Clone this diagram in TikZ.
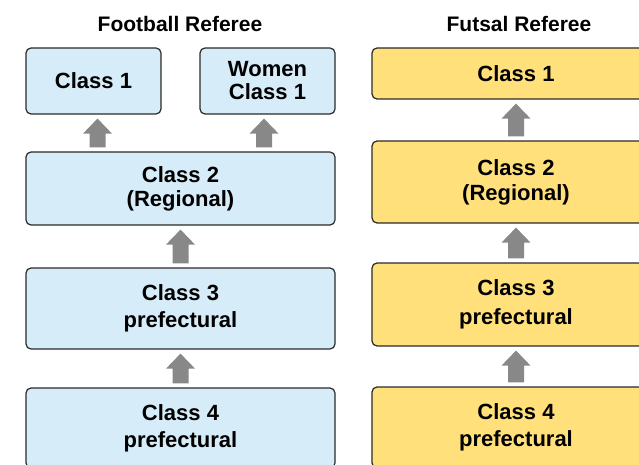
\documentclass[tikz,border=0pt]{standalone}
\usepackage{fontspec}
\setmainfont{Liberation Sans}
\usetikzlibrary{calc}
\definecolor{bluefill}{HTML}{D6ECF8}
\definecolor{yelfill}{HTML}{FFE07A}
\definecolor{edgec}{HTML}{2A2A2A}
\definecolor{arwc}{HTML}{888888}
\newcommand\uparw[2]{\fill[arw] ($#1+(-8,4)$) -- ($#2+(-8,-19)$) -- ($#2+(-14.5,-19)$) -- ($#2+(0,-4)$) -- ($#2+(14.5,-19)$) -- ($#2+(8,-19)$) -- ($#1+(8,4)$) -- cycle;}
\begin{document}
\begin{tikzpicture}[x=1pt,y=1pt,
  boxbase/.style={draw=edgec, line width=1.2pt, rounded corners=5pt, inner sep=0pt, align=center, font=\fontsize{22}{26}\selectfont\bfseries},
  fbox/.style={boxbase, fill=bluefill},
  sbox/.style={boxbase, fill=yelfill},
  ttl/.style={font=\fontsize{21}{24}\selectfont\bfseries, inner sep=0pt, anchor=base},
  arw/.style={fill=arwc}]
\useasboundingbox (0,0) rectangle (639,464);
% titles
\node[ttl] (T1) at (180,432) {Football Referee};
\node[ttl] (T2) at (519,432) {Futsal Referee};
% football boxes
\node[fbox, minimum width=135, minimum height=66] (F1) at (93.5,383) {Class 1};
\node[fbox, minimum width=135, minimum height=66, font=\fontsize{22}{23}\selectfont\bfseries] (FW) at (267.5,383) {Women\\Class 1};
\node[fbox, minimum width=309, minimum height=73, font=\fontsize{22}{24}\selectfont\bfseries] (F2) at (180.5,275.5) {Class 2\\(Regional)};
\node[fbox, minimum width=309, minimum height=81, font=\fontsize{22}{27}\selectfont\bfseries] (F3) at (180.5,155.5) {Class 3\\prefectural};
\node[fbox, minimum width=309, minimum height=80, font=\fontsize{22}{27}\selectfont\bfseries] (F4) at (180.5,36) {Class 4\\prefectural};
% futsal boxes
\node[sbox, minimum width=288, minimum height=51] (S1) at (516,390.5) {Class 1};
\node[sbox, minimum width=288, minimum height=82, font=\fontsize{22}{25}\selectfont\bfseries] (S2) at (516,282) {Class 2\\(Regional)};
\node[sbox, minimum width=288, minimum height=83, font=\fontsize{22}{29}\selectfont\bfseries] (S3) at (516,159.5) {Class 3\\prefectural};
\node[sbox, minimum width=288, minimum height=81, font=\fontsize{22}{27}\selectfont\bfseries] (S4) at (516,36.5) {Class 4\\prefectural};
% arrow end points under the top boxes
\coordinate (a1) at ($(F1.south)+(4,0)$);
\coordinate (a2) at ($(FW.south)+(-3.5,0)$);
% arrows
\uparw{(F2.north -| a1)}{(a1)}
\uparw{(F2.north -| a2)}{(a2)}
\uparw{(F3.north)}{(F2.south)}
\uparw{(F4.north)}{(F3.south)}
\uparw{(S2.north)}{(S1.south)}
\uparw{(S3.north)}{(S2.south)}
\uparw{(S4.north)}{(S3.south)}
\end{tikzpicture}
\end{document}
